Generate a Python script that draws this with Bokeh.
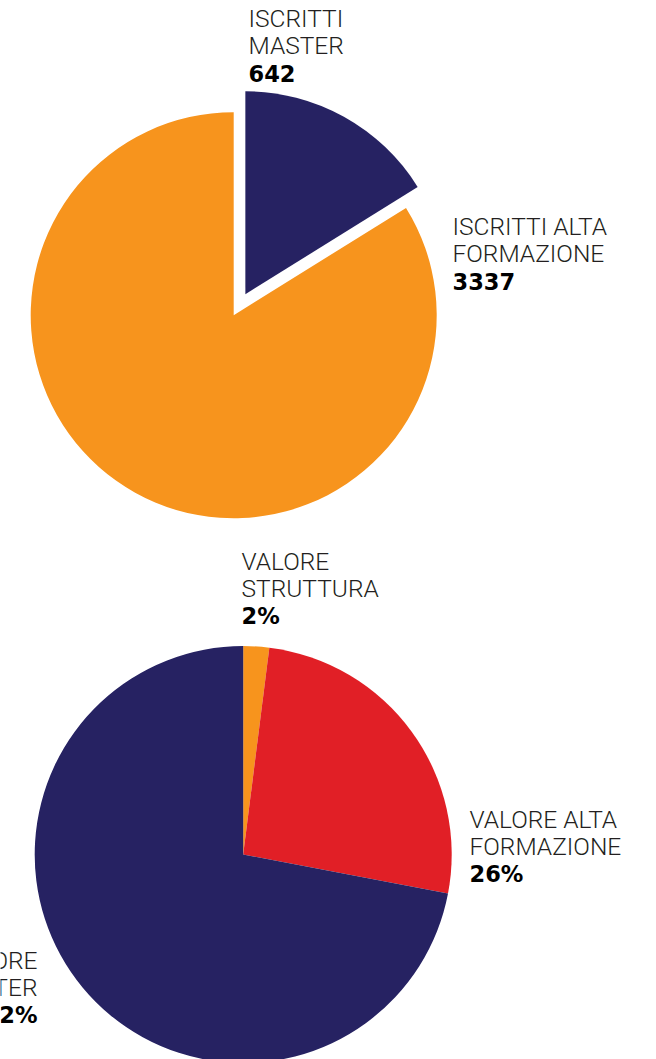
import math
from bokeh.plotting import figure
from bokeh.models import Range1d, ColumnDataSource
from bokeh.core.properties import value
from bokeh.embed import file_html
from bokeh.resources import INLINE

# ---- data ----
top_categories = ["ISCRITTI\nMASTER", "ISCRITTI ALTA\nFORMAZIONE"]
top_values = [642, 3337]
top_colors = ["#262262", "#F7941D"]
top_explode = [24, 0]

bottom_categories = ["VALORE\nSTRUTTURA", "VALORE ALTA\nFORMAZIONE", "VALORE\nMASTER"]
bottom_values = [2, 26, 72]
bottom_colors = ["#F7941D", "#E11F26", "#262262"]

# ---- layout (page pixels: x right, y down) ----
W, H = 656, 1059
TEXT_SHIFT = -9

def Y(sy):
    return H - sy

p = figure(width=W, height=H, output_backend="svg", toolbar_location=None,
           x_range=Range1d(0, W), y_range=Range1d(0, H),
           x_axis_location=None, y_axis_location=None, min_border=0,
           outline_line_color=None, background_fill_color=None, border_fill_color=None)
p.grid.visible = False

TEXT_COLOR = "#231F20"
LIGHT_FONT = value("Roboto Light")
BOLD_FONT = value("DejaVu Sans")


def draw_pie(cx, cy, r, values, colors, explode=None):
    total = float(sum(values))
    xs, ys, sa, ea, cols = [], [], [], [], []
    cum = 0.0
    for i, v in enumerate(values):
        a0 = math.pi / 2 - 2 * math.pi * (cum + v) / total
        a1 = math.pi / 2 - 2 * math.pi * cum / total
        cum += v
        off = explode[i] if explode else 0
        mid = (a0 + a1) / 2
        xs.append(cx + off * math.cos(mid))
        ys.append(Y(cy) + off * math.sin(mid))
        sa.append(a0)
        ea.append(a1)
        cols.append(colors[i])
    src = ColumnDataSource(dict(x=xs, y=ys, start=sa, end=ea, color=cols))
    p.wedge(x="x", y="y", radius=r, start_angle="start", end_angle="end",
            fill_color="color", line_color=None, source=src)


def draw_label(x, baseline_sy, category, number_text, align="left", pitch=27.3):
    baseline_sy += TEXT_SHIFT
    lines = category.split("\n")
    n = len(lines)
    ys = [Y(baseline_sy + i * pitch) for i in range(n)]
    p.text(x=[x] * n, y=ys, text=lines, text_font=LIGHT_FONT, text_font_size="24.5px",
           text_color=TEXT_COLOR, text_align=align, text_baseline="alphabetic")
    p.text(x=[x], y=[Y(baseline_sy + n * pitch)], text=[number_text], text_font=BOLD_FONT,
           text_font_style="bold", text_font_size="22.5px", text_color="#000000",
           text_align=align, text_baseline="alphabetic")


# top pie
draw_pie(233.2, 314.7, 203, top_values, top_colors, top_explode)
draw_label(248, 27, top_categories[0], f"{top_values[0]}")
draw_label(452, 235, top_categories[1], f"{top_values[1]}")

# bottom pie
draw_pie(242.7, 854, 208.5, bottom_values, bottom_colors)
draw_label(241, 570, bottom_categories[0], f"{bottom_values[0]}%")
draw_label(469, 828, bottom_categories[1], f"{bottom_values[1]}%")
draw_label(37, 969, bottom_categories[2], f"{bottom_values[2]}%", align="right")

open("out.html", "w").write(file_html(p, INLINE))
